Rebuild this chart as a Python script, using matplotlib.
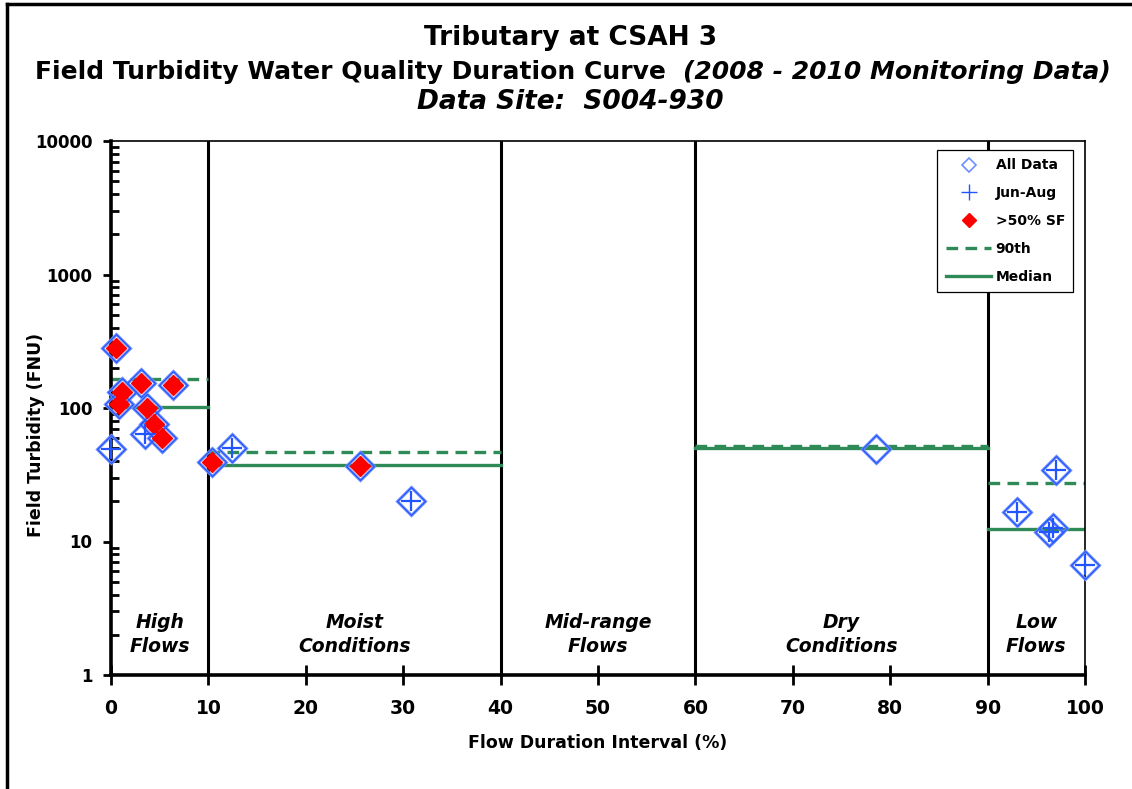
import matplotlib
matplotlib.use("Agg")
import matplotlib.pyplot as plt
from matplotlib.lines import Line2D
import numpy as np

# all samples (flow duration interval %, turbidity FNU)
all_x = [0, 0.5, 0.8, 1.1, 3.1, 3.5, 3.7, 4.4, 5.2, 6.4, 10.4, 12.4, 25.6, 30.8,
         78.5, 93.0, 96.3, 96.7, 97.0, 100]
all_y = [49.3, 281, 107, 132, 154, 63.9, 100, 75.9, 59.6, 149, 39.4, 50.2, 36.8, 20.1,
         49.3, 16.6, 11.8, 12.6, 34.3, 6.67]

# Jun-Aug samples
jun_x = [0, 3.5, 12.4, 30.8, 93.0, 96.3, 96.7, 97.0, 100]
jun_y = [49.3, 63.9, 50.2, 20.1, 16.6, 11.8, 12.6, 34.3, 6.67]

# samples with >50% storm flow
sf_x = [0.5, 0.8, 1.1, 3.1, 3.7, 4.4, 5.2, 6.4, 10.4, 25.6]
sf_y = [281, 107, 132, 154, 100, 75.9, 59.6, 149, 39.4, 36.8]

# flow zones
zone_edges = [0, 10, 40, 60, 90, 100]
zone_names = ["High\nFlows", "Moist\nConditions", "Mid-range\nFlows",
              "Dry\nConditions", "Low\nFlows"]
p90 = [164, 46.6, None, 52, 27.3]
median = [101, 37.4, None, 50, 12.4]

green = "#2e8b57"
blue = "#2255ff"

fig = plt.figure(figsize=(11.32, 7.89), dpi=100)
ax = fig.add_axes([111/1132, 1 - 675/789, (1085-111)/1132, (675-141)/789])

# zone statistics lines
for i in range(5):
    if p90[i] is None:
        continue
    ax.plot([zone_edges[i], zone_edges[i+1]], [p90[i], p90[i]], color=green,
            lw=2.4, ls=(0, (3.5, 2.2)), zorder=2)
    ax.plot([zone_edges[i], zone_edges[i+1]], [median[i], median[i]], color=green,
            lw=2.4, zorder=2)

# zone dividers
for e in zone_edges[1:-1]:
    ax.axvline(e, color="black", lw=2.2, zorder=1)

ax.plot(all_x, all_y, ls="none", marker="D", ms=14, mfc="none", mec="#6f8fff",
        mew=2.2, zorder=3, clip_on=False)
ax.plot(all_x, all_y, ls="none", marker="D", ms=14, mfc="none", mec=blue,
        mew=0.8, zorder=3, clip_on=False)
ax.plot(sf_x, sf_y, ls="none", marker="D", ms=10.5, mfc="red", mec="red", zorder=4,
        clip_on=False)
ax.plot(jun_x, jun_y, ls="none", marker="+", ms=14, mec=blue, mew=1.6, zorder=5,
        clip_on=False)

# zone labels
for i, name in enumerate(zone_names):
    xc = (zone_edges[i] + zone_edges[i+1]) / 2
    ax.text(xc, 0.076, name, transform=ax.get_xaxis_transform(), ha="center",
            va="center", fontsize=13.5, fontstyle="italic", fontweight="bold",
            linespacing=1.3)

ax.set_yscale("log")
ax.set_xlim(0, 100)
ax.set_ylim(1, 10000)
ax.set_xticks(np.arange(0, 101, 10))
ax.set_yticks([1, 10, 100, 1000, 10000])
ax.set_yticklabels(["1", "10", "100", "1000", "10000"])
ax.tick_params(axis="x", which="major", direction="inout", length=14, width=2,
               labelsize=13.5, pad=10)
ax.tick_params(axis="y", which="major", direction="out", length=6, width=2,
               labelsize=12, pad=7.5)
ax.tick_params(axis="y", which="minor", direction="in", length=6, width=2)
for lab in ax.get_xticklabels() + ax.get_yticklabels():
    lab.set_fontweight("bold")

for s in ["left", "bottom"]:
    ax.spines[s].set_linewidth(2.6)
for s in ["top", "right"]:
    ax.spines[s].set_linewidth(1.2)

ax.set_xlabel("Flow Duration Interval (%)", fontsize=12.5, fontweight="bold")
ax.xaxis.set_label_coords(0.5, -(734 - 675) / 534)
ax.set_ylabel("Field Turbidity (FNU)", fontsize=12.5, fontweight="bold")
ax.yaxis.set_label_coords(-(111 - 45) / 974, 0.45)

handles = [
    Line2D([], [], ls="none", marker="D", ms=7, mfc="none", mec="#6f8fff", mew=1.2),
    Line2D([], [], ls="none", marker="+", ms=11, mec=blue, mew=1),
    Line2D([], [], ls="none", marker="D", ms=7, mfc="red", mec="red"),
    Line2D([], [], color=green, lw=2.4, ls=(0, (3.5, 2.2))),
    Line2D([], [], color=green, lw=2.4),
]
leg = ax.legend(handles, ["All Data", "Jun-Aug", ">50% SF", "90th", "Median"],
                loc="upper right", bbox_to_anchor=(0.988, 0.983), borderaxespad=0,
                fancybox=False, frameon=True, edgecolor="black", framealpha=1,
                prop={"weight": "bold", "size": 10}, labelspacing=1.0,
                handlelength=3.3, handletextpad=0.3, borderpad=0.6)
leg.get_frame().set_linewidth(0.9)

# title
fig.text(0.504, 1 - 38/789, "Tributary at CSAH 3", ha="center", va="center",
         fontsize=19, fontweight="bold")
fig.canvas.draw()
r = fig.canvas.get_renderer()
t1 = fig.text(0, 1 - 72/789, "Field Turbidity Water Quality Duration Curve  ",
              ha="left", va="center", fontsize=18, fontweight="bold")
t2 = fig.text(0, 1 - 72/789, "(2008 - 2010 Monitoring Data)", ha="left",
              va="center", fontsize=18, fontweight="bold", fontstyle="italic")
w1 = t1.get_window_extent(r).width
w2 = t2.get_window_extent(r).width
x0 = (573 - (w1 + w2) / 2) / 1132
t1.set_x(x0)
t2.set_x(x0 + w1 / 1132)
fig.text(0.504, 1 - 102/789, "Data Site:  S004-930", ha="center", va="center",
         fontsize=19, fontweight="bold", fontstyle="italic")

# outer frame (left and top edges)
fig.add_artist(Line2D([7/1132, 7/1132], [0, 1 - 4/789], color="black", lw=2.5,
                      transform=fig.transFigure))
fig.add_artist(Line2D([7/1132, 1], [1 - 4/789, 1 - 4/789], color="black", lw=2.5,
                      transform=fig.transFigure))

fig.savefig("out.png", dpi=100)
